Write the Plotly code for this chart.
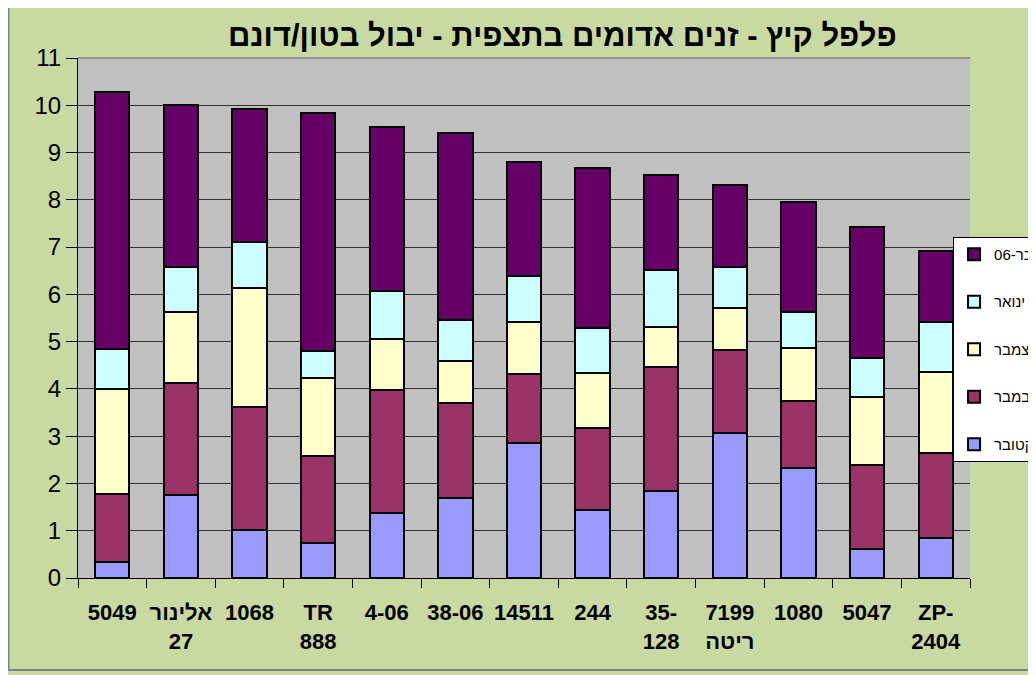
import plotly.graph_objects as go

categories = ["5049", "אלינור<br>27", "1068", "TR<br>888", "4-06", "38-06", "14511",
              "244", "35-<br>128", "7199<br>ריטה", "1080", "5047", "ZP-<br>2404"]

oct_vals = [0.33, 1.76, 1.02, 0.75, 1.37, 1.69, 2.86, 1.43, 1.84, 3.06, 2.32, 0.62, 0.84]
nov_vals = [1.44, 2.36, 2.60, 1.83, 2.60, 2.01, 1.45, 1.75, 2.63, 1.77, 1.42, 1.76, 1.81]
dec_vals = [2.23, 1.50, 2.51, 1.66, 1.08, 0.88, 1.10, 1.16, 0.84, 0.88, 1.12, 1.44, 1.71]
jan_vals = [0.85, 0.95, 0.97, 0.56, 1.02, 0.88, 0.97, 0.95, 1.20, 0.86, 0.77, 0.83, 1.06]
feb_vals = [5.43, 3.43, 2.83, 5.03, 3.48, 3.95, 2.43, 3.38, 2.01, 1.75, 2.33, 2.78, 1.50]

series_names = ["אוקטובר", "נובמבר", "דצמבר", "ינואר", "פבר-06"]
series_colors = ["#9999FF", "#993366", "#FFFFCC", "#CCFFFF", "#660066"]
series_values = [oct_vals, nov_vals, dec_vals, jan_vals, feb_vals]

y_ticks = list(range(0, 12))

fig = go.Figure()
n = len(series_names)
for i, (name, color, vals) in enumerate(zip(series_names, series_colors, series_values)):
    fig.add_trace(go.Bar(
        x=categories, y=vals, name=name, legendgroup=name, legendrank=n - i,
        marker=dict(color=color, line=dict(color="black", width=2)),
    ))

font_family = "Liberation Sans, Arial, sans-serif"

fig.update_layout(
    barmode="stack",
    bargap=0.5,
    width=1036, height=675,
    margin=dict(l=70, r=74, t=50, b=105, autoexpand=False),
    paper_bgcolor="#C8D9A2",
    plot_bgcolor="#C0C0C0",
    title=dict(text="<b>פלפל קיץ - זנים אדומים בתצפית - יבול בטון/דונם</b>",
               x=0.535, xanchor="center", y=0.96, yanchor="middle",
               font=dict(family=font_family, size=31, color="black")),
    font=dict(family=font_family, color="black"),
    showlegend=True,
    legend=dict(
        x=0.981, xanchor="left", y=0.656, yanchor="top",
        bgcolor="white", bordercolor="black", borderwidth=1,
        traceorder="grouped", tracegroupgap=25,
        font=dict(family=font_family, size=15, color="black"),
    ),
    xaxis=dict(
        type="category",
        showline=True, linecolor="black", linewidth=1,
        ticks="outside", tickson="boundaries", ticklen=9, tickcolor="black",
        tickfont=dict(family=font_family, size=22, color="black"),
        tickangle=0,
        ticklabelstandoff=15,
        showgrid=False,
    ),
    yaxis=dict(
        range=[0, 11], tickvals=y_ticks,
        showline=True, linecolor="black", linewidth=1,
        ticks="outside", ticklen=11, tickcolor="black",
        tickfont=dict(family=font_family, size=24, color="black"),
        showgrid=True, gridcolor="#303030", gridwidth=1,
        zeroline=False,
    ),
)

fig.update_xaxes(tickprefix="<b>", ticksuffix="</b>")
fig.update_yaxes(tickprefix="<b>", ticksuffix="</b>")

# plot area top border and outer chart border
fig.add_shape(type="line", xref="paper", yref="paper", x0=0, x1=1, y0=1, y1=1,
              line=dict(color="#808080", width=1.5), layer="below")
fig.add_shape(type="rect", xref="paper", yref="paper",
              x0=-0.078, x1=1.2, y0=-0.177, y1=1.2,
              line=dict(color="#808080", width=2), layer="below")

fig.write_html("out.html")
